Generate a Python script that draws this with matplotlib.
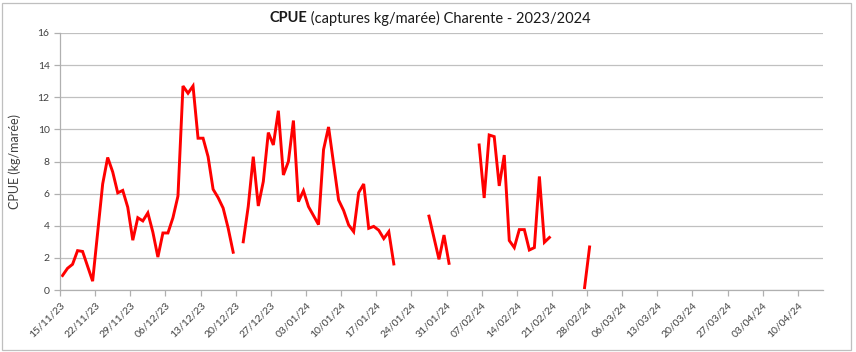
import datetime as dt
import numpy as np
import matplotlib
matplotlib.use("Agg")
import matplotlib.pyplot as plt
import matplotlib.dates as mdates
from matplotlib.patches import Rectangle

plt.rcParams['font.family'] = ['Lato', 'DejaVu Sans']

# CPUE per sampling day (None = empty cell, shown as a gap)
dates = [
    "15/11/23", "16/11/23", "17/11/23", "18/11/23", "19/11/23", "21/11/23",
    "23/11/23", "24/11/23", "25/11/23", "26/11/23", "27/11/23", "28/11/23",
    "29/11/23", "30/11/23", "01/12/23", "02/12/23", "03/12/23", "04/12/23",
    "05/12/23", "06/12/23", "07/12/23", "08/12/23", "09/12/23", "10/12/23",
    "11/12/23", "12/12/23", "13/12/23", "14/12/23", "15/12/23", "16/12/23",
    "17/12/23", "18/12/23", "19/12/23", "20/12/23",
    "21/12/23", "22/12/23", "23/12/23", "24/12/23", "25/12/23", "26/12/23",
    "27/12/23", "28/12/23", "29/12/23", "30/12/23", "31/12/23", "01/01/24",
    "02/01/24", "03/01/24", "05/01/24", "06/01/24", "07/01/24", "09/01/24",
    "10/01/24", "11/01/24", "12/01/24", "13/01/24", "14/01/24", "15/01/24",
    "16/01/24", "17/01/24", "18/01/24", "19/01/24", "20/01/24", "21/01/24",
    "27/01/24", "29/01/24", "30/01/24", "31/01/24", "01/02/24",
    "06/02/24", "07/02/24", "08/02/24", "09/02/24", "10/02/24", "11/02/24",
    "12/02/24", "13/02/24", "14/02/24", "15/02/24", "16/02/24", "17/02/24",
    "18/02/24", "19/02/24", "20/02/24", "21/02/24",
    "27/02/24", "28/02/24",
]
cpue = [
    0.9, 1.35, 1.6, 2.45, 2.4, 0.55,
    6.6, 8.25, 7.35, 6.05, 6.2, 5.15,
    3.1, 4.5, 4.3, 4.8, 3.6, 2.05,
    3.55, 3.55, 4.5, 5.85, 12.7, 12.25,
    12.7, 9.45, 9.45, 8.3, 6.27, 5.75,
    5.1, 3.85, 2.35, None,
    3.0, 5.2, 8.3, 5.23, 6.75, 9.8,
    9.03, 11.16, 7.16, 8.0, 10.55, 5.5,
    6.18, 5.19, 4.07, 8.74, 10.15, 5.6,
    4.95, 4.05, 3.63, 6.06, 6.6, 3.84,
    3.96, 3.72, 3.2, 3.63, 1.62, None,
    4.6, 1.91, 3.42, 1.66, None,
    9.03, 5.73, 9.65, 9.55, 6.48, 8.4,
    3.08, 2.64, 3.76, 3.76, 2.49, 2.64,
    7.07, 2.97, 3.27, None,
    0.15, 2.68,
]

x_start = "15/11/23"
x_end = "15/04/24"
y_ticks = [0, 2, 4, 6, 8, 10, 12, 14, 16]


def to_num(s):
    return mdates.date2num(dt.datetime.strptime(s, "%d/%m/%y"))


x = np.array([to_num(d) for d in dates]) + 0.5  # points sit mid-day
y = np.array([np.nan if v is None else v for v in cpue], dtype=float)

fig = plt.figure(figsize=(8.56, 3.52), dpi=100)
ax = fig.add_axes([60 / 856, 1 - 290 / 352, 763 / 856, 257 / 352])

ax.plot(x, y, color='#ff0000', linewidth=2.1, solid_joinstyle='miter')

x0, x1 = to_num(x_start), to_num(x_end)
ax.set_xlim(x0, x1)
ax.set_ylim(0, 16)
ax.set_yticks(y_ticks)
ax.set_xticks(np.arange(x0, x1, 7))
ax.xaxis.set_major_formatter(mdates.DateFormatter("%d/%m/%y"))
plt.setp(ax.get_xticklabels(), rotation=45, ha='right', rotation_mode='anchor')

ax.grid(axis='y', color='#c0c0c0', linewidth=0.9)
ax.set_axisbelow(True)
for side in ['top', 'right']:
    ax.spines[side].set_visible(False)
for side in ['left', 'bottom']:
    ax.spines[side].set_color('#b0b0b0')
    ax.spines[side].set_linewidth(0.9)
ax.tick_params(axis='both', colors='#b0b0b0', length=4, width=0.9,
               labelcolor='#404040', labelsize=7.5)
ax.set_ylabel("CPUE (kg/marée)", fontsize=9, color='#404040', labelpad=12)

# title: bold "CPUE" followed by regular text, centred on the figure
fig.canvas.draw()
r = fig.canvas.get_renderer()
t1 = fig.text(0, 1 - 18 / 352, "CPUE", fontsize=10.5, fontweight='bold',
              va='center', color='#1a1a1a')
t2 = fig.text(0, 1 - 18 / 352, " (captures kg/marée) Charente - 2023/2024",
              fontsize=10.5, va='center', color='#1a1a1a')
w1 = t1.get_window_extent(r).width / fig.bbox.width
w2 = t2.get_window_extent(r).width / fig.bbox.width
left = 430 / 856 - (w1 + w2) / 2
t1.set_x(left)
t2.set_x(left + w1)

# chart-area border
fig.patches.append(Rectangle((2 / 856, 2 / 352), 849 / 856, 347 / 352,
                             transform=fig.transFigure, fill=False,
                             edgecolor='#bfbfbf', linewidth=0.9))

fig.savefig("out.png", dpi=100)
